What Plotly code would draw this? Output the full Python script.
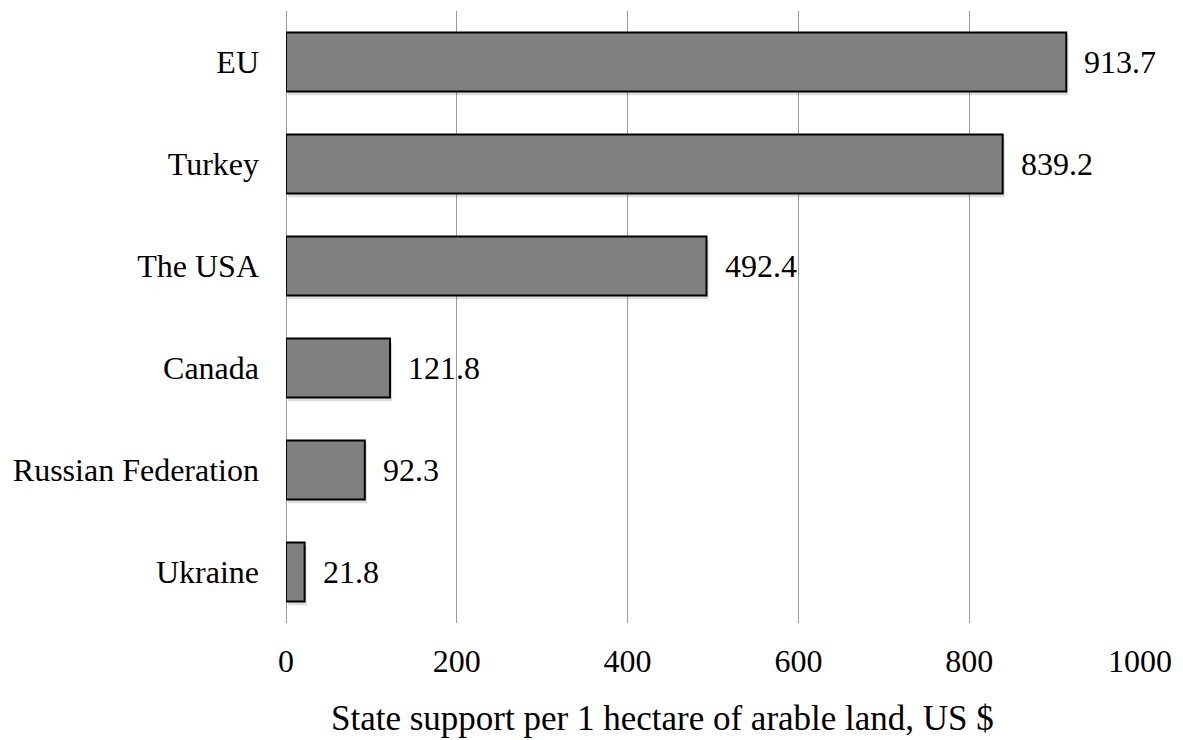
import plotly.graph_objects as go

# State support per 1 hectare of arable land (US $)
countries = ["Ukraine", "Russian Federation", "Canada", "The USA", "Turkey", "EU"]
support = [21.8, 92.3, 121.8, 492.4, 839.2, 913.7]
value_labels = ["21.8", "92.3", "121.8", "492.4", "839.2", "913.7"]
x_ticks = [0, 200, 400, 600, 800, 1000]
x_title = "State support per 1 hectare of arable land, US $"

FONT = "Liberation Serif, Times New Roman, serif"
BAR_W = 0.58

fig = go.Figure()

# soft drop shadow under each bar
fig.add_trace(go.Bar(
    y=countries, x=support, base=2.5, orientation="h",
    width=BAR_W, offset=-BAR_W / 2 - 0.035,
    marker=dict(color="rgba(0,0,0,0.13)", line=dict(width=0)),
    hoverinfo="skip", showlegend=False,
))
fig.add_trace(go.Bar(
    y=countries, x=support, orientation="h",
    width=BAR_W, offset=-BAR_W / 2,
    marker=dict(color="#808080", line=dict(color="#000000", width=2)),
    showlegend=False,
))

# value labels just past the end of each bar
for name, val, lab in zip(countries, support, value_labels):
    fig.add_annotation(
        x=val, y=name, xref="x", yref="y", text=lab, showarrow=False,
        xanchor="left", yanchor="middle", xshift=16,
        font=dict(family=FONT, size=32, color="#000000"),
    )

# axis title below the tick labels
fig.add_annotation(
    x=0.441, y=0, xref="paper", yref="paper", text=x_title, showarrow=False,
    xanchor="center", yanchor="top", yshift=-74,
    font=dict(family=FONT, size=35, color="#000000"),
)

fig.update_layout(
    width=1183, height=740,
    margin=dict(l=286, r=38, t=11, b=117),
    paper_bgcolor="white", plot_bgcolor="white",
    barmode="overlay",
    font=dict(family=FONT, size=32, color="#000000"),
    xaxis=dict(
        range=[0, 1000], tickvals=x_ticks,
        showgrid=True, gridcolor="#9a9a9a", gridwidth=1,
        zeroline=True, zerolinecolor="#9a9a9a", zerolinewidth=1,
        showline=False, ticks="",
        ticklabelstandoff=16,
    ),
    yaxis=dict(
        categoryorder="array", categoryarray=countries,
        range=[-0.5, 5.5],
        showgrid=False, zeroline=False, showline=False, ticks="",
        ticklabelstandoff=26,
    ),
)

fig.write_html("out.html")
